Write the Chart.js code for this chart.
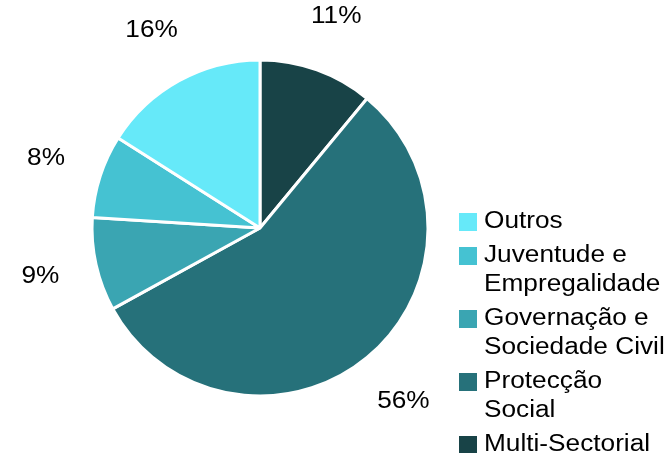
<!DOCTYPE html>
<html>
<head>
<meta charset="utf-8">
<script src="https://cdn.jsdelivr.net/npm/chart.js@4/dist/chart.umd.min.js"></script>
<style>
  html, body { margin: 0; padding: 0; background: #ffffff; }
  #wrap { width: 669px; height: 453px; }
</style>
</head>
<body>
<div id="wrap"><canvas id="chart" width="669" height="453"></canvas></div>
<script>
// Slices, clockwise from 12 o'clock
const categories = [
  'Multi-Sectorial',
  'Protecção Social',
  'Governação e Sociedade Civil',
  'Juventude e Empregalidade',
  'Outros'
];
const shares = [11, 56, 9, 8, 16];
const sliceColors = ['#184347', '#26717a', '#3aa5b2', '#45c2d2', '#66e9f9'];

const FONT = '23px "Liberation Sans", Arial, sans-serif';
const STRETCH = 1.14; // horizontal widening of the text

function drawWideText(ctx, text, x, y, align) {
  ctx.save();
  ctx.translate(x, y);
  ctx.scale(STRETCH, 1);
  ctx.textAlign = align;
  ctx.textBaseline = 'middle';
  ctx.fillText(text, 0, 0);
  ctx.restore();
}

function wrapWords(ctx, text, maxWidth) {
  const words = text.split(' ');
  const lines = [];
  let cur = '';
  for (const w of words) {
    const test = cur ? cur + ' ' + w : w;
    if (ctx.measureText(test).width * STRETCH > maxWidth && cur) {
      lines.push(cur);
      cur = w;
    } else {
      cur = test;
    }
  }
  if (cur) lines.push(cur);
  return lines;
}

// Percentage labels outside each slice
const outsideLabels = {
  id: 'outsideLabels',
  afterDatasetsDraw(chart) {
    const ctx = chart.ctx;
    const meta = chart.getDatasetMeta(0);
    const data = chart.data.datasets[0].data;
    ctx.save();
    ctx.font = FONT;
    ctx.fillStyle = '#000000';
    meta.data.forEach((arc, i) => {
      const p = arc.getProps(['x', 'y', 'startAngle', 'endAngle', 'outerRadius'], true);
      const mid = (p.startAngle + p.endAngle) / 2;
      const r = p.outerRadius + 57;
      drawWideText(ctx, data[i] + '%', p.x + Math.cos(mid) * r, p.y + Math.sin(mid) * r, 'center');
    });
    ctx.restore();
  }
};

// Legend on the right, listed in reverse slice order, wrapped to the canvas edge
const sideLegend = {
  id: 'sideLegend',
  afterDraw(chart) {
    const ctx = chart.ctx;
    const labels = chart.data.labels;
    const colors = chart.data.datasets[0].backgroundColor;
    const boxX = 459, box = 18, textX = 484;
    const lineH = 29, gap = 5;
    let y = 222;
    ctx.save();
    ctx.font = FONT;
    for (let i = labels.length - 1; i >= 0; i--) {
      const lines = wrapWords(ctx, labels[i], chart.width - textX);
      ctx.fillStyle = colors[i];
      ctx.fillRect(boxX, y - box / 2, box, box);
      ctx.fillStyle = '#000000';
      lines.forEach((ln, k) => drawWideText(ctx, ln, textX, y + k * lineH, 'left'));
      y += lines.length * lineH + gap;
    }
    ctx.restore();
  }
};

new Chart(document.getElementById('chart'), {
  type: 'pie',
  data: {
    labels: categories,
    datasets: [{
      data: shares,
      backgroundColor: sliceColors,
      borderColor: '#ffffff',
      borderWidth: 3
    }]
  },
  options: {
    responsive: false,
    animation: false,
    radius: 168,
    layout: { padding: { left: 60, right: 209, top: 60, bottom: 57 } },
    plugins: {
      legend: { display: false },
      tooltip: { enabled: false }
    }
  },
  plugins: [outsideLabels, sideLegend]
});
</script>
</body>
</html>
